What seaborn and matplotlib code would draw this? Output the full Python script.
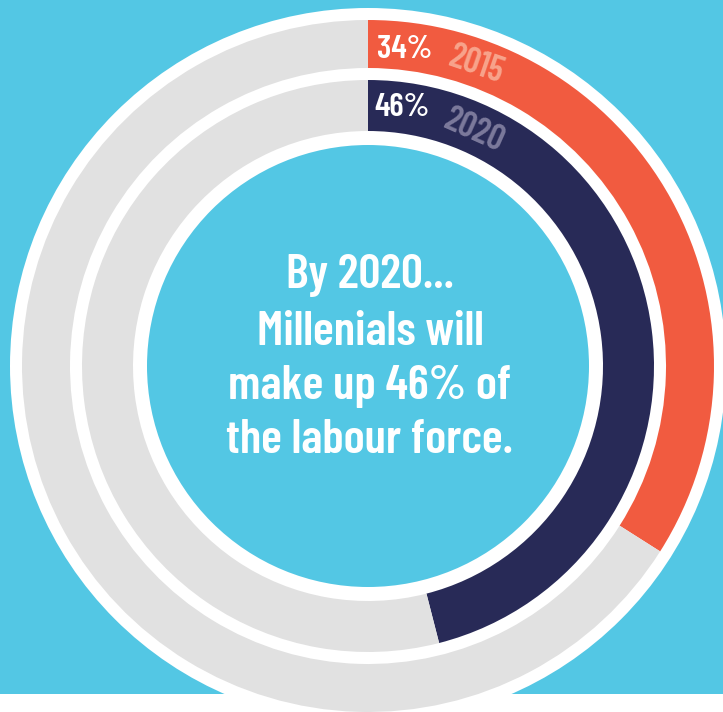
import matplotlib
matplotlib.use("Agg")
import matplotlib.pyplot as plt
from matplotlib.patches import Circle, Rectangle
import seaborn as sns

# ---- data ----
years = ["2015", "2020"]
shares = [34, 46]                      # millennial share of labour force (%)
share_labels = ["34%", "46%"]
headline = ["By 2020...", "Millenials will", "make up 46% of", "the labour force."]

# ---- colours ----
BG = "#53C7E4"
GREY = "#E1E1E1"
ring_colors = ["#F15B40", "#282A57"]
year_colors = ["#F8A48C", "#7C7A9C"]

sns.set_theme(style="white")
plt.rcParams["font.family"] = ["Barlow Condensed", "DejaVu Sans"]

W, H = 723, 712
fig = plt.figure(figsize=(W / 100, H / 100), dpi=100)
ax = fig.add_axes([0, 0, 1, 1])
ax.set_xlim(0, W)
ax.set_ylim(0, H)
ax.set_aspect("equal")
ax.axis("off")
fig.patch.set_facecolor(BG)

cx, cy = 368, H - 366

# white strip at bottom
ax.add_patch(Rectangle((0, 0), W, 18, facecolor="white", edgecolor="none", zorder=0))
# white disc behind rings
ax.add_patch(Circle((cx, cy), 358, facecolor="white", edgecolor="none", zorder=1))

radii = [(346, 48), (286, 51)]
for (r, w), s, col in zip(radii, shares, ring_colors):
    wedges, _ = ax.pie([s, 100 - s], colors=[col, GREY], startangle=90, counterclock=False,
                       radius=r, center=(cx, cy),
                       wedgeprops=dict(width=w, linewidth=0))
    for wd in wedges:
        wd.set_zorder(2)
ax.set_xlim(0, W)
ax.set_ylim(0, H)

# inner blue disc
ax.add_patch(Circle((cx, cy), 221, facecolor=BG, edgecolor="none", zorder=3))

# ring labels
lab_pos = [(405, H - 49), (402, H - 108)]
year_pos = [(476, H - 65), (474, H - 131)]
year_rot = [-19, -24]
for i in range(2):
    ax.text(*lab_pos[i], share_labels[i], color="white", fontsize=24, fontweight=600,
            ha="center", va="center", zorder=4)
    ax.text(*year_pos[i], years[i], color=year_colors[i], fontsize=25.5, fontweight=600,
            ha="center", va="center", rotation=year_rot[i], rotation_mode="anchor", zorder=4)

# headline
baselines = [288, 345, 399, 453]
for line, yb in zip(headline, baselines):
    ax.text(370, H - yb, line, color="white", fontsize=35, fontweight=600,
            ha="center", va="baseline", zorder=4)

fig.savefig("out.png", dpi=100, facecolor=BG)
